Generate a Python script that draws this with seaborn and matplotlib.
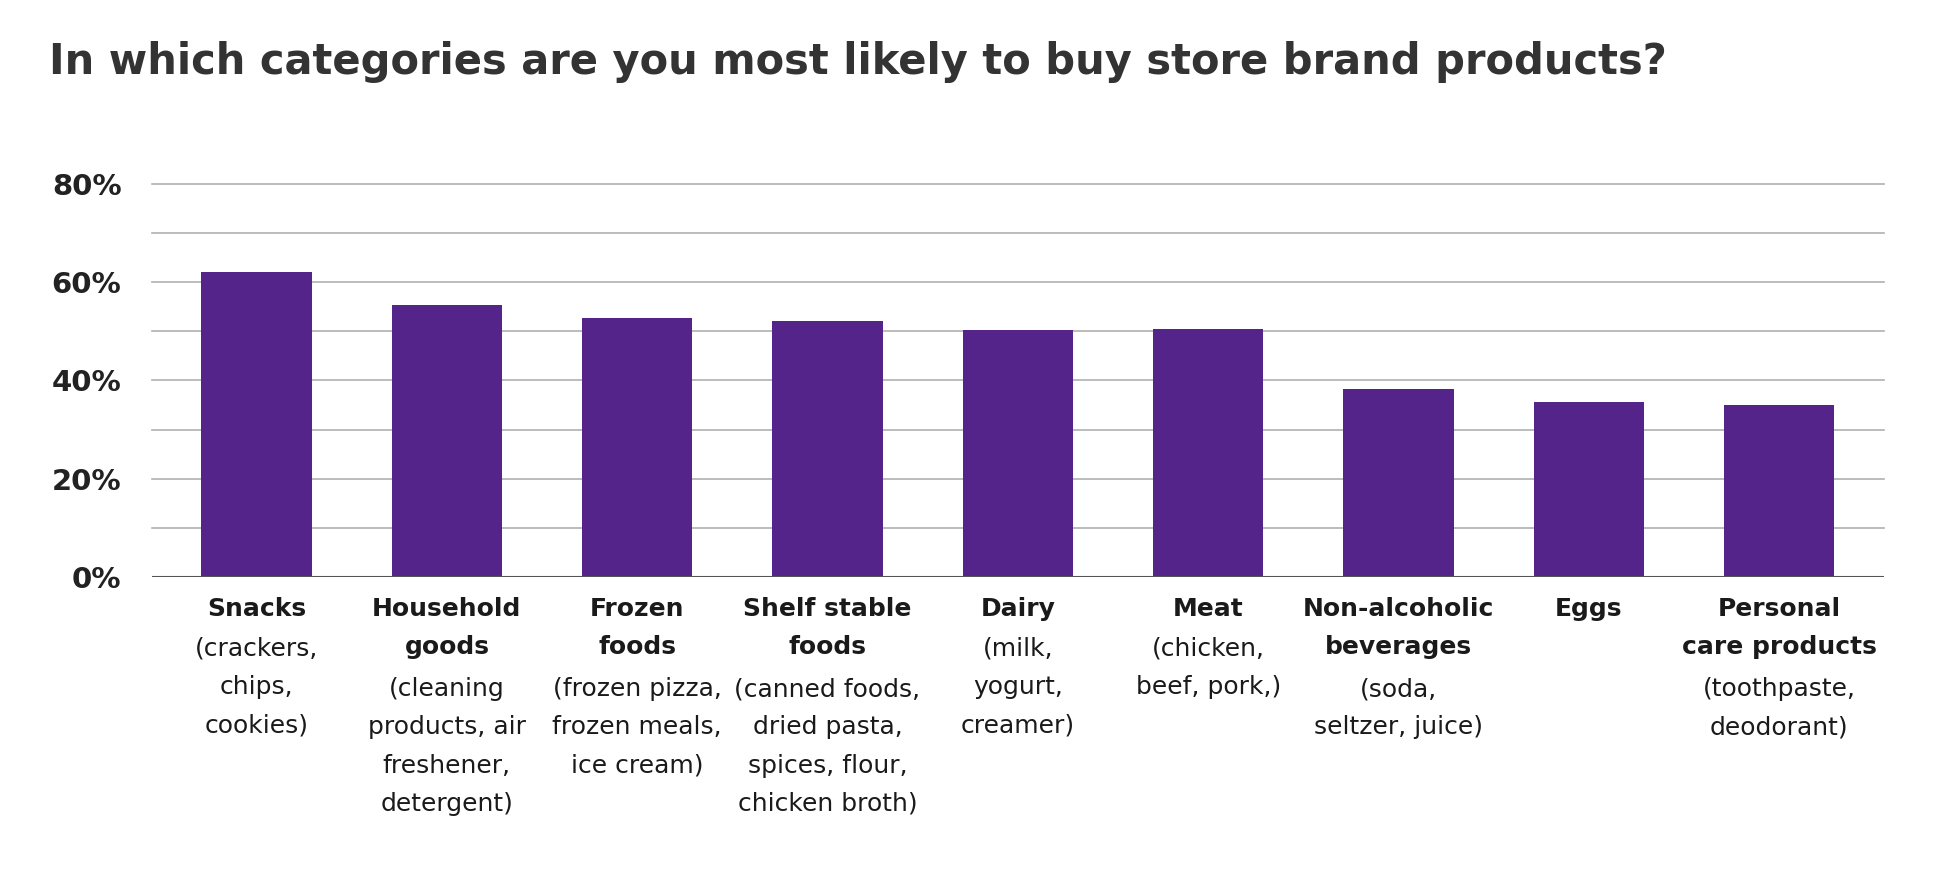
import matplotlib
matplotlib.use("Agg")
import matplotlib.pyplot as plt
import seaborn as sns
import pandas as pd

categories_bold = ["Snacks", "Household\ngoods", "Frozen\nfoods", "Shelf stable\nfoods", "Dairy",
                   "Meat", "Non-alcoholic\nbeverages", "Eggs", "Personal\ncare products"]
categories_sub = ["(crackers,\nchips,\ncookies)", "(cleaning\nproducts, air\nfreshener,\ndetergent)",
                  "(frozen pizza,\nfrozen meals,\nice cream)", "(canned foods,\ndried pasta,\nspices, flour,\nchicken broth)",
                  "(milk,\nyogurt,\ncreamer)", "(chicken,\nbeef, pork,)", "(soda,\nseltzer, juice)", "",
                  "(toothpaste,\ndeodorant)"]
values = [62.0, 55.4, 52.6, 52.1, 50.3, 50.5, 38.3, 35.6, 35.0]
yticks = [0, 20, 40, 60, 80]

df = pd.DataFrame({"cat": range(len(values)), "val": values})

fig = plt.figure(figsize=(19.48, 8.92), dpi=100)
ax = fig.add_axes([0.078, 0.353, 0.889, 0.441])
sns.barplot(data=df, x="cat", y="val", color="#55248a", width=0.58, saturation=1, ax=ax, zorder=3)
ax.set_ylim(0, 80)
ax.set_xlim(-0.55, len(values) - 0.45)
for y in range(10, 81, 10):
    ax.axhline(y, color="#b0b0b0", lw=1.2, zorder=1, clip_on=False)
ax.axhline(0, color="#555555", lw=1.5, zorder=4)
ax.set_yticks(yticks)
ax.set_yticklabels([f"{t}%" for t in yticks], fontsize=21, fontweight="bold", color="#222222")
ax.tick_params(axis="y", length=0, pad=22)
ax.set_xticks([])
ax.set_xlabel(""); ax.set_ylabel("")
for s in ax.spines.values():
    s.set_visible(False)

lh = 29
for i, (b, s) in enumerate(zip(categories_bold, categories_sub)):
    nb = b.count("\n") + 1
    ax.annotate(b, (i, 0), xytext=(0, -14), textcoords="offset points", ha="center", va="top",
                fontsize=18, fontweight="bold", color="#1a1a1a", linespacing=1.75, annotation_clip=False)
    if s:
        ax.annotate(s, (i, 0), xytext=(0, -14 - nb * lh), textcoords="offset points", ha="center", va="top",
                    fontsize=18, color="#1a1a1a", linespacing=1.75, annotation_clip=False)

fig.text(0.025, 0.93, "In which categories are you most likely to buy store brand products?",
         fontsize=30, fontweight="bold", color="#333333", va="center")
fig.savefig("out.png", dpi=100, facecolor="white")
